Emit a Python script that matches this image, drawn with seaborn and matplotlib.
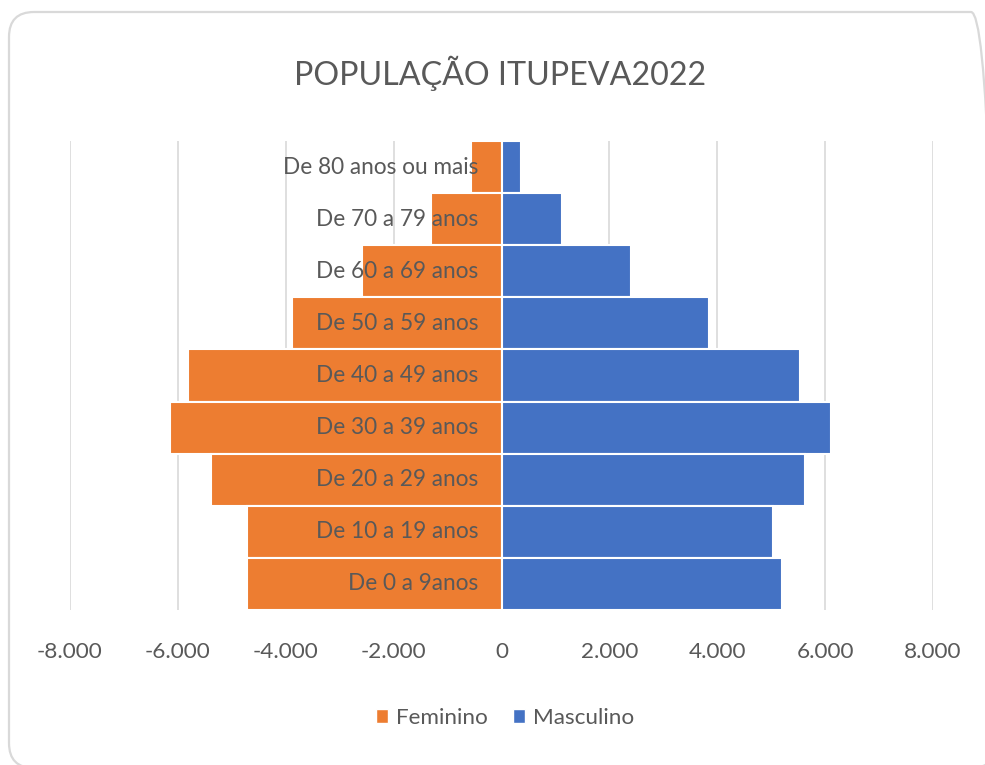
import matplotlib
matplotlib.use("Agg")
import matplotlib.pyplot as plt
import seaborn as sns
import pandas as pd
from matplotlib.patches import FancyBboxPatch, Patch

# ---- data ----
categories = ["De 80 anos ou mais", "De 70 a 79 anos", "De 60 a 69 anos",
              "De 50 a 59 anos", "De 40 a 49 anos", "De 30 a 39 anos",
              "De 20 a 29 anos", "De 10 a 19 anos", "De 0 a 9anos"]
feminino = [-570, -1300, -2580, -3880, -5820, -6150, -5380, -4710, -4710]
masculino = [370, 1130, 2410, 3850, 5540, 6100, 5630, 5040, 5200]
series_names = ["Feminino", "Masculino"]
xticks = [-8000, -6000, -4000, -2000, 0, 2000, 4000, 6000, 8000]
xtick_labels = ["-8.000", "-6.000", "-4.000", "-2.000", "0", "2.000", "4.000", "6.000", "8.000"]
title = "POPULAÇÃO ITUPEVA2022"

ORANGE = "#ED7D31"
BLUE = "#4472C4"
TXT = "#595959"

sns.set_theme(style="white")
FONTS = ["Lato", "DejaVu Sans"]
plt.rcParams["font.family"] = FONTS

df = pd.DataFrame({
    "faixa": categories * 2,
    "valor": feminino + masculino,
    "sexo": [series_names[0]] * len(categories) + [series_names[1]] * len(categories),
})

W, H = 985, 765
fig = plt.figure(figsize=(W / 100, H / 100), dpi=100)
fig.patch.set_facecolor("white")

# card border (in inches)
card = FancyBboxPatch((0.09, (H - 768) / 100), (996 - 9) / 100, (768 - 12) / 100,
                      boxstyle="round,pad=0,rounding_size=0.25",
                      transform=fig.dpi_scale_trans, facecolor="none",
                      edgecolor="#D9D9D9", linewidth=1.6, zorder=-1)
fig.patches.append(card)

left, right, top, bottom = 70, 933, 141, 610
ax = fig.add_axes([left / W, 1 - bottom / H, (right - left) / W, (bottom - top) / H])
ax.set_facecolor("none")

sns.barplot(data=df, y="faixa", x="valor", hue="sexo", order=categories,
            hue_order=series_names, palette=[ORANGE, BLUE], dodge=False,
            orient="h", width=1.0, saturation=1, edgecolor="white", linewidth=1.5,
            legend=False, ax=ax, zorder=2)

ax.set_xlim(-8000, 8000)
ax.set_ylim(len(categories) - 0.5, -0.5)
ax.set_xticks(xticks)
ax.set_xticklabels(xtick_labels)
ax.tick_params(axis="x", length=0, pad=23, labelsize=16.2, labelcolor=TXT)
ax.set_yticks([])
ax.set_xlabel("")
ax.set_ylabel("")
for s in ax.spines.values():
    s.set_visible(False)
ax.grid(axis="x", color="#D9D9D9", linewidth=1.2, zorder=0)
ax.set_axisbelow(True)

for i, c in enumerate(categories):
    ax.annotate(c, xy=(0, i), xytext=(-23, 0), textcoords="offset pixels",
                ha="right", va="center", fontsize=16.3, color=TXT, zorder=5)

fig.text(500 / W, 1 - 73 / H, title, ha="center", va="center",
         fontsize=23.2, color=TXT, fontweight="normal")

handles = [Patch(facecolor=ORANGE), Patch(facecolor=BLUE)]
leg = fig.legend(handles, series_names, loc="center",
                 bbox_to_anchor=(505 / W, 1 - 718 / H), ncol=2, frameon=False,
                 fontsize=16.2, handlelength=0.55, handleheight=0.55,
                 handletextpad=0.35, columnspacing=1.1)
for t in leg.get_texts():
    t.set_color(TXT)

fig.savefig("out.png", dpi=100, facecolor="white")
